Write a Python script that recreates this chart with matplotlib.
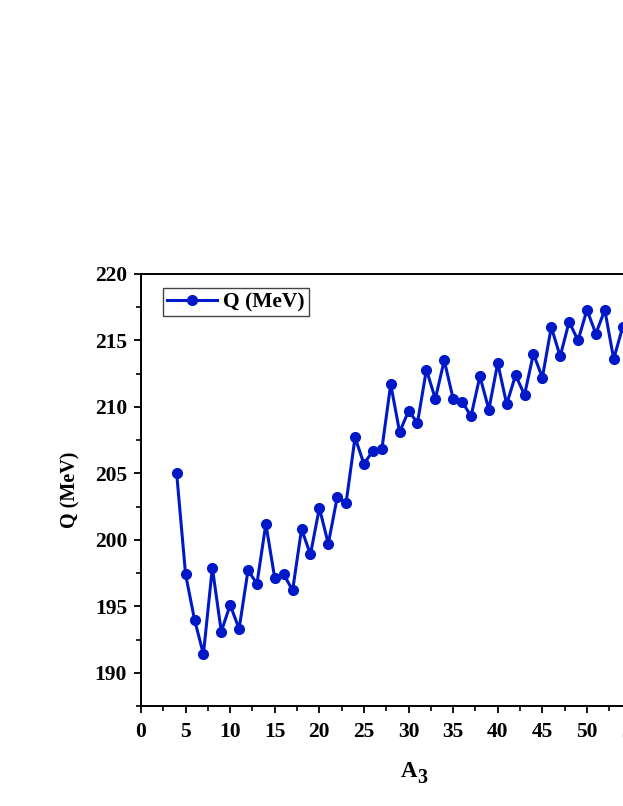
import matplotlib
matplotlib.use('Agg')
import matplotlib.pyplot as plt
from matplotlib.ticker import MultipleLocator

plt.rcParams['font.family'] = 'Liberation Serif'
plt.rcParams['font.weight'] = 'bold'

# A3 values and Q (MeV)
a3 = list(range(4, 55))
q_mev = [205.0, 197.4, 194.0, 191.4, 197.9, 193.1, 195.1, 193.3, 197.7, 196.7,
         201.2, 197.1, 197.4, 196.2, 200.8, 198.9, 202.4, 199.7, 203.2, 202.8,
         207.7, 205.7, 206.7, 206.8, 211.7, 208.1, 209.7, 208.8, 212.8, 210.6,
         213.5, 210.6, 210.4, 209.3, 212.3, 209.8, 213.3, 210.2, 212.4, 210.9,
         214.0, 212.2, 216.0, 213.8, 216.4, 215.0, 217.3, 215.5, 217.3, 213.6,
         216.0]

fig = plt.figure(figsize=(6.23, 8.06), dpi=100)
# axes runs past the right edge of the figure, as in the reference
ax = fig.add_axes([0.2263, 0.1241, 0.859, 0.5360])

ax.plot(a3, q_mev, color='#0019c8', lw=2.2, marker='o', ms=7,
        label='Q (MeV)')

ax.set_xlim(0, 60)
ax.set_ylim(187.5, 220)
ax.xaxis.set_major_locator(MultipleLocator(5))
ax.xaxis.set_minor_locator(MultipleLocator(2.5))
ax.yaxis.set_minor_locator(MultipleLocator(2.5))
ax.set_yticks([190, 195, 200, 205, 210, 215, 220])

ax.tick_params(which='major', direction='out', length=5, width=1.3,
               labelsize=15.5)
ax.tick_params(axis='x', which='major', pad=6.5)
ax.tick_params(axis='y', which='major', pad=5)
ax.tick_params(which='minor', direction='out', length=3.3, width=1.2)
for s in ax.spines.values():
    s.set_linewidth(1.4)

# x label: "A" with a large subscript "3"
ax.set_xlabel('A', fontsize=16.5, fontweight='bold', labelpad=14)
ax.annotate('3', xy=(1, 0), xycoords=ax.xaxis.label, xytext=(0.5, -4),
            textcoords='offset points', fontsize=14.5, fontweight='bold',
            ha='left', va='bottom')
ax.set_ylabel('Q (MeV)', fontsize=14.5, fontweight='bold', labelpad=10)

leg = ax.legend(loc='upper left', bbox_to_anchor=(0.041, 0.968), fontsize=15.5,
                fancybox=False, framealpha=1, edgecolor='#444444',
                handlelength=2.3, borderpad=0.2, handletextpad=0.3,
                borderaxespad=0)
leg.get_frame().set_linewidth(1.0)

fig.savefig('out.png', dpi=100)
plt.close()
